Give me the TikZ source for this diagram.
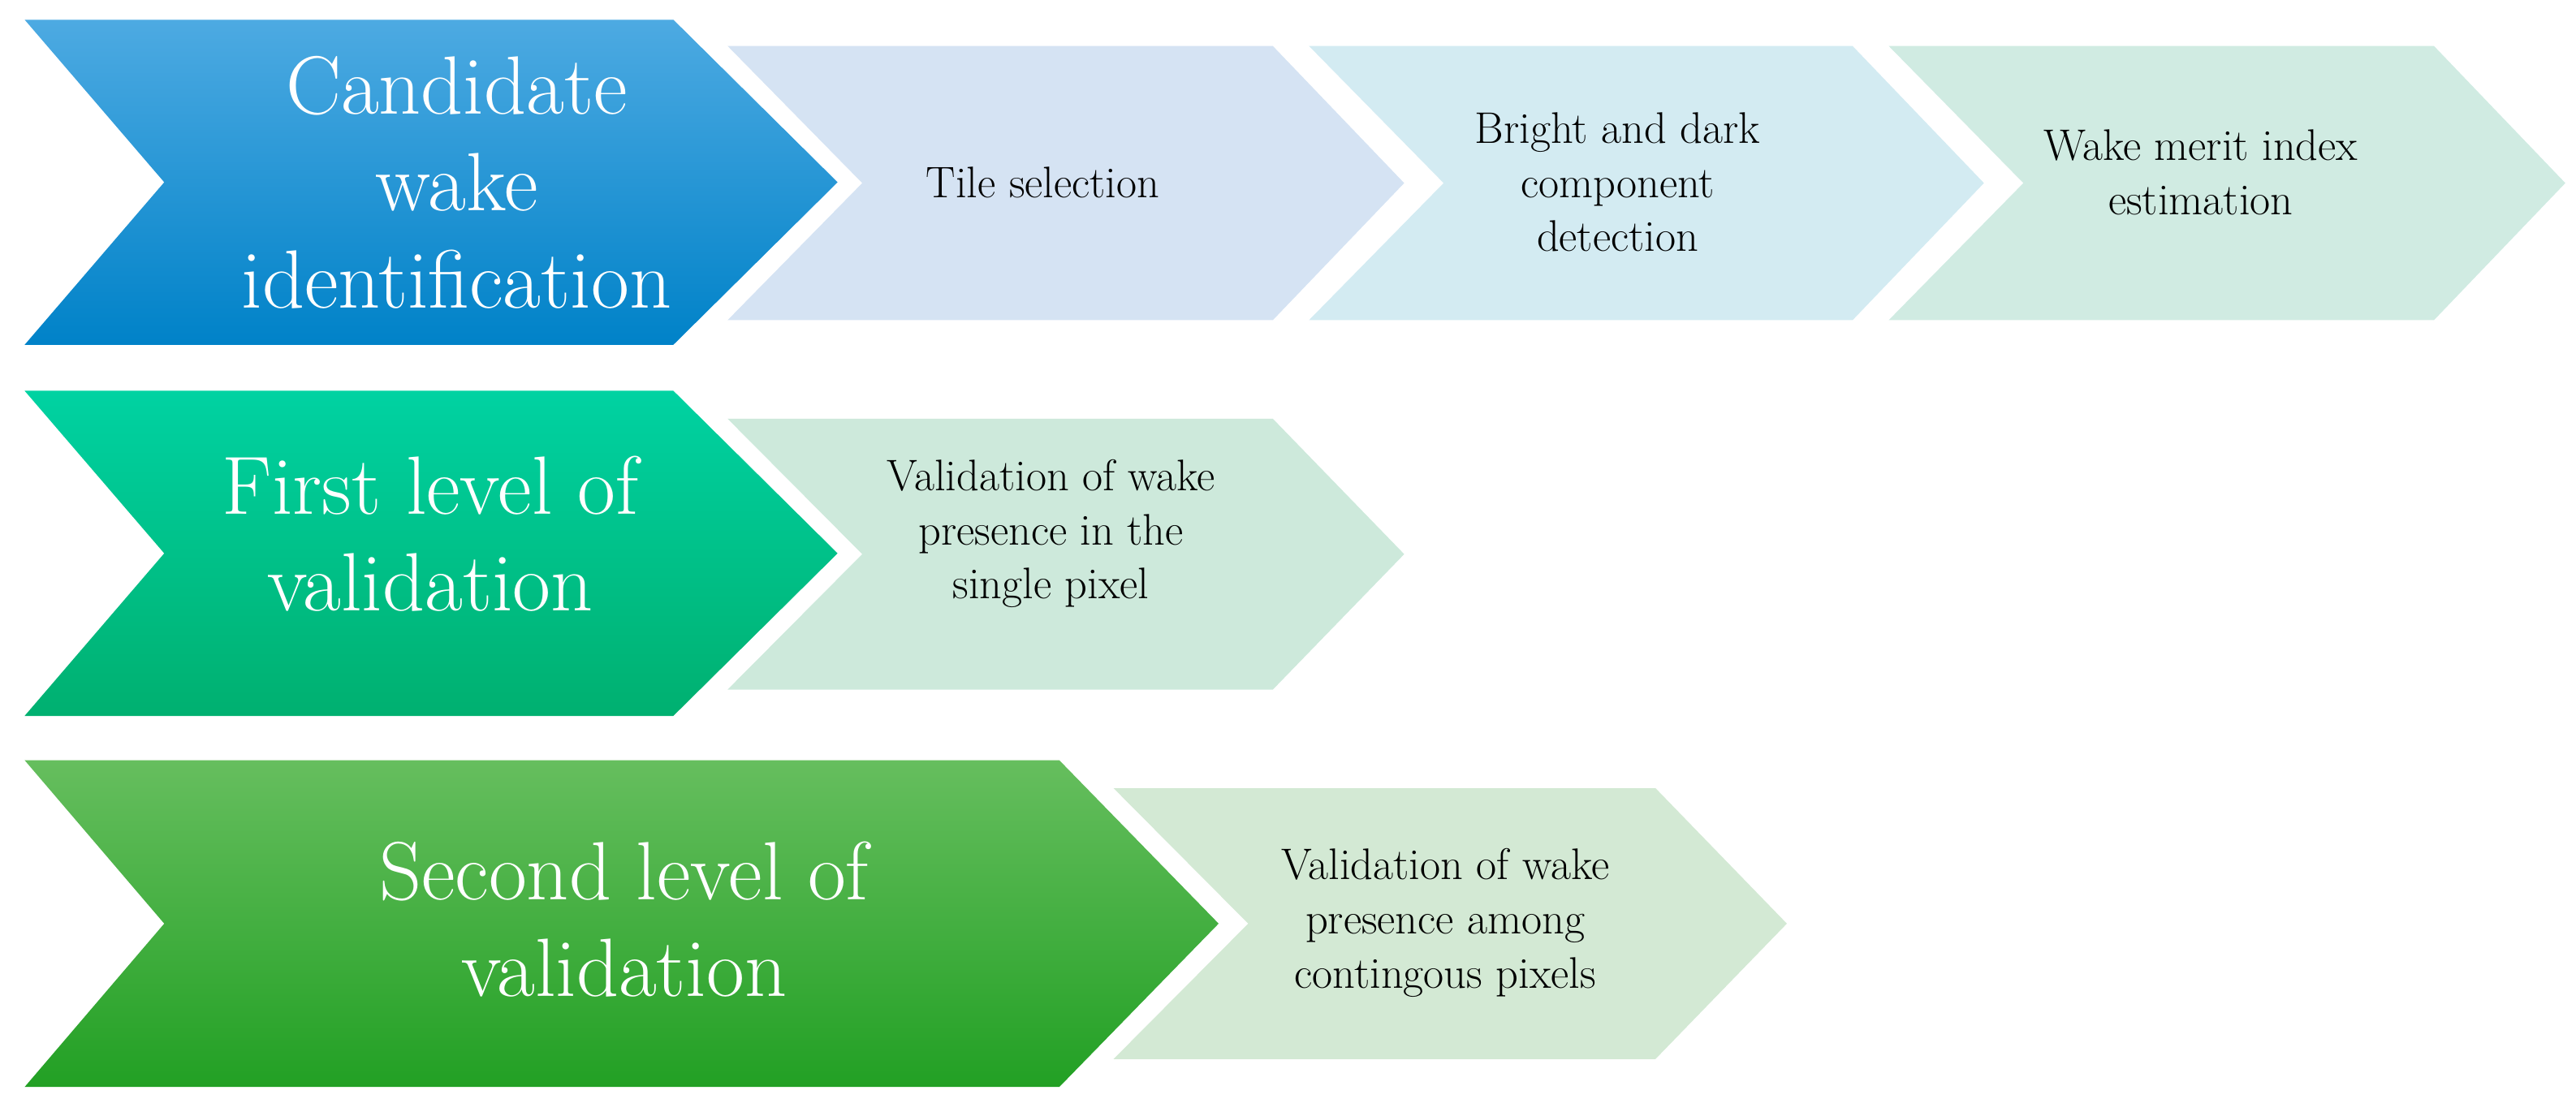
\documentclass[tikz,border=0pt]{standalone}
\usetikzlibrary{positioning}
\definecolor{blueT}{HTML}{4DAAE2}\definecolor{blueB}{HTML}{0082C8}
\definecolor{tealT}{HTML}{00D2A2}\definecolor{tealB}{HTML}{00B070}
\definecolor{grnT}{HTML}{66BE5E}\definecolor{grnB}{HTML}{22A024}
\definecolor{tileA}{HTML}{D5E3F3}\definecolor{tileB}{HTML}{D3EBF2}
\definecolor{tileC}{HTML}{D0EBE2}\definecolor{tileD}{HTML}{CDE9DB}
\definecolor{tileE}{HTML}{D3E9D4}
% chevron: left x, shoulder x, tip x, top y, bottom y, notch depth
\newcommand\chevpath[6]{(#1,#4) -- (#2,#4) -- (#3,{(#4+#5)/2}) -- (#2,#5) -- (#1,#5) -- ({#1+#6},{(#4+#5)/2}) -- cycle}
\tikzset{
  big/.style={text=white, align=center, font=\fontsize{29}{34}\selectfont},
  small/.style={text=black, align=center, font=\fontsize{15.5}{19}\selectfont}
}
\begin{document}
\begin{tikzpicture}[x=0.02023cm, y=-0.02023cm]
	\useasboundingbox (0,0) rectangle (1568.5,669);
	% row 1
	\shade[top color=blueT, bottom color=blueB] \chevpath{15}{410}{510}{12}{210}{85};
	\fill[tileA] \chevpath{443}{775}{855}{28}{195}{82};
	\fill[tileB] \chevpath{797}{1128}{1208}{28}{195}{82};
	\fill[tileC] \chevpath{1150}{1482}{1562}{28}{195}{82};
	\node[big] (cand) at (278,111) {Candidate\\wake\\identification};
	\node[small] (tile) at (635,111) {Tile selection};
	\node[small] (comp) at (985,111) {Bright and dark\\component\\detection};
	\node[small] (merit) at (1340,105) {Wake merit index\\estimation};
	% row 2
	\shade[top color=tealT, bottom color=tealB] \chevpath{15}{410}{510}{238}{436}{85};
	\fill[tileD] \chevpath{443}{775}{855}{255}{420}{82};
	\node[big] (first) at (262,325) {First level of\\validation};
	\node[small] (single) at (640,325) {Validation of wake\\presence in the\\single pixel};
	% row 3
	\shade[top color=grnT, bottom color=grnB] \chevpath{15}{645}{742}{463}{662}{85};
	\fill[tileE] \chevpath{678}{1008}{1088}{480}{645}{82};
	\node[big] (second) at (380,560) {Second level of\\validation};
	\node[small] (contig) at (880,562) {Validation of wake\\presence among\\contingous pixels};
\end{tikzpicture}
\end{document}
